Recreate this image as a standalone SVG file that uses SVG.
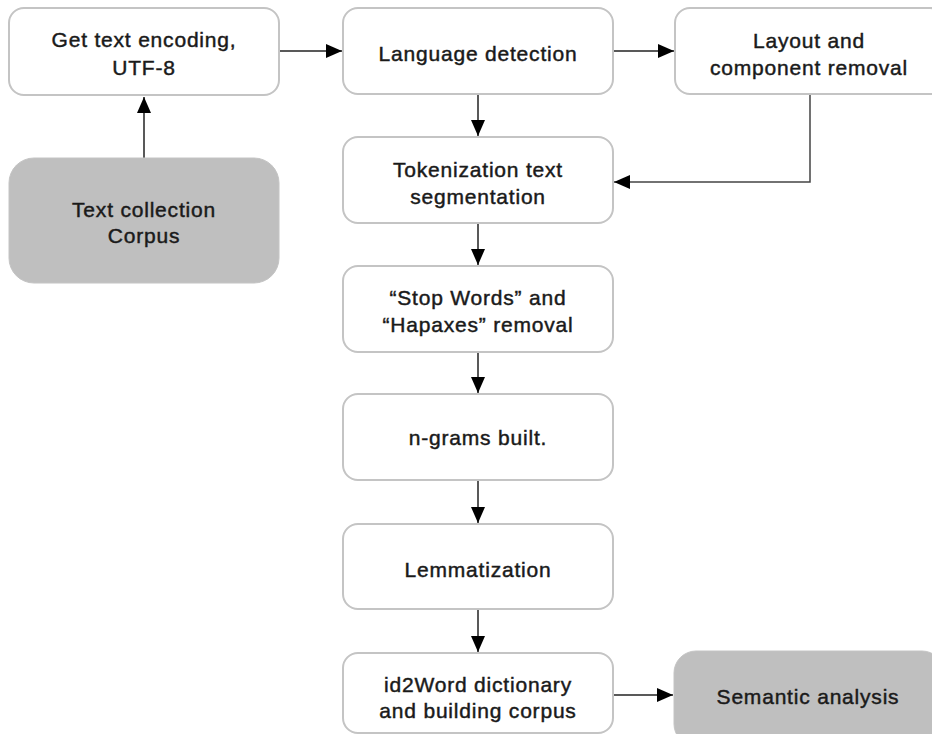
<svg xmlns="http://www.w3.org/2000/svg" width="932" height="734" viewBox="0 0 932 734">
<style>
.box{fill:#ffffff;stroke:#c4c4c4;stroke-width:2}
.gray{fill:#bfbfbf;stroke:#c4c4c4;stroke-width:1}
.t{font-family:"Liberation Sans",Arial,sans-serif;font-size:21px;letter-spacing:0.8px;fill:#1a1a1a;stroke:#1a1a1a;stroke-width:0.45px;text-anchor:middle}
.c{fill:none;stroke:#222;stroke-width:1.5}
</style>
<defs>
<marker id="ah" markerUnits="userSpaceOnUse" markerWidth="17" markerHeight="14" refX="16" refY="7" orient="auto">
<path d="M0,0 L16,7 L0,14 Z" fill="#000"/>
</marker>
</defs>
<rect width="932" height="734" fill="#ffffff"/>
<g id="connectors">
<path class="c" d="M144,158 V97" marker-end="url(#ah)"/>
<path class="c" d="M279,51 H342" marker-end="url(#ah)"/>
<path class="c" d="M613,51 H674" marker-end="url(#ah)"/>
<path class="c" d="M478,94 V136" marker-end="url(#ah)"/>
<path class="c" d="M810,94 V182 H614" marker-end="url(#ah)" style="stroke:#444"/>
<path class="c" d="M478,223 V265" marker-end="url(#ah)"/>
<path class="c" d="M478,352 V393" marker-end="url(#ah)"/>
<path class="c" d="M478,480 V523" marker-end="url(#ah)"/>
<path class="c" d="M478,609 V652" marker-end="url(#ah)"/>
<path class="c" d="M613,695 H673" marker-end="url(#ah)"/>
</g>
<g id="n-encoding">
<rect class="box" x="9" y="8" width="270" height="87" rx="15"/>
<text class="t" x="144" y="47">Get text encoding,</text>
<text class="t" x="144" y="75">UTF-8</text>
</g>
<g id="n-collection">
<rect class="gray" x="9" y="158" width="270" height="125" rx="25"/>
<text class="t" x="144" y="217">Text collection</text>
<text class="t" x="144" y="243">Corpus</text>
</g>
<g id="n-language">
<rect class="box" x="343" y="8" width="270" height="86" rx="15"/>
<text class="t" x="478" y="61">Language detection</text>
</g>
<g id="n-layout">
<rect class="box" x="675" y="8" width="270" height="86" rx="15"/>
<text class="t" x="809" y="48">Layout and</text>
<text class="t" x="809" y="75">component removal</text>
</g>
<g id="n-tokenization">
<rect class="box" x="343" y="137" width="270" height="86" rx="15"/>
<text class="t" x="478" y="177">Tokenization text</text>
<text class="t" x="478" y="204">segmentation</text>
</g>
<g id="n-stopwords">
<rect class="box" x="343" y="266" width="270" height="86" rx="15"/>
<text class="t" x="478" y="305">“Stop Words” and</text>
<text class="t" x="478" y="332">“Hapaxes” removal</text>
</g>
<g id="n-ngrams">
<rect class="box" x="343" y="394" width="270" height="86" rx="15"/>
<text class="t" x="478" y="445">n-grams built.</text>
</g>
<g id="n-lemmatization">
<rect class="box" x="343" y="524" width="270" height="85" rx="15"/>
<text class="t" x="478" y="577">Lemmatization</text>
</g>
<g id="n-id2word">
<rect class="box" x="343" y="653" width="270" height="80" rx="15"/>
<text class="t" x="478" y="692">id2Word dictionary</text>
<text class="t" x="478" y="718">and building corpus</text>
</g>
<g id="n-semantic">
<rect class="gray" x="674" y="651" width="270" height="95" rx="22"/>
<text class="t" x="808" y="704">Semantic analysis</text>
</g>
</svg>
